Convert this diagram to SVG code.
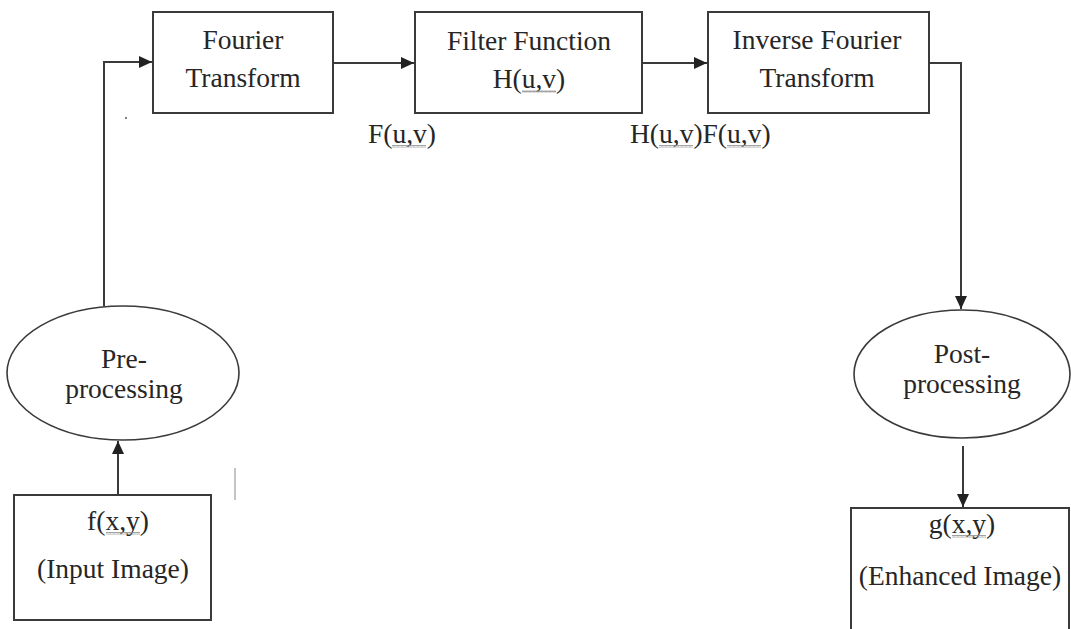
<svg xmlns="http://www.w3.org/2000/svg" width="1071" height="629" viewBox="0 0 1071 629">
  <style>
    .box { fill: #ffffff; stroke: #3a3a3a; stroke-width: 2; }
    .oval { fill: #ffffff; stroke: #3a3a3a; stroke-width: 1.6; }
    .lbl { font-family: "Liberation Serif", "Times New Roman", serif; font-size: 27.5px; fill: #262626; text-anchor: middle; }
    .lbl-start { font-family: "Liberation Serif", "Times New Roman", serif; font-size: 27.5px; fill: #262626; }
    .wire { fill: none; stroke: #3a3a3a; stroke-width: 2; }
    .squiggle { fill: url(#wave); }
  </style>
  <defs>
    <marker id="arrow" viewBox="0 0 10 10" refX="10" refY="5" markerWidth="6.5" markerHeight="6" orient="auto" markerUnits="strokeWidth" preserveAspectRatio="none">
      <path d="M0,0 L10,5 L0,10 Z" fill="#222222"/>
    </marker>
    <pattern id="wave" width="4" height="3" patternUnits="userSpaceOnUse">
      <path d="M0,2.5 L1,0.5 L2,2.5 L3,0.5 L4,2.5" fill="none" stroke="#8a8a8a" stroke-width="0.8"/>
    </pattern>
  </defs>

  <rect width="1071" height="629" fill="#ffffff"/>

  <!-- connectors -->
  <g id="connectors">
    <path class="wire" d="M104,306 L104,62 L152,62" marker-end="url(#arrow)"/>
    <path class="wire" d="M333,63 L414,63" marker-end="url(#arrow)"/>
    <path class="wire" d="M642,63 L707,63" marker-end="url(#arrow)"/>
    <path class="wire" d="M929,63 L961,63 L961,309" marker-end="url(#arrow)"/>
    <path class="wire" d="M118,495 L118,441" marker-end="url(#arrow)"/>
    <path class="wire" d="M963,446 L963,507" marker-end="url(#arrow)"/>
  </g>

  <!-- edge labels -->
  <g id="edge-labels">
    <text class="lbl-start" x="368" y="143">F(u,v)</text>
    <rect class="squiggle" x="392" y="145" width="34" height="3"/>
    <text class="lbl-start" x="630" y="143">H(u,v)F(u,v)</text>
    <rect class="squiggle" x="659" y="145" width="34" height="3"/>
    <rect class="squiggle" x="727" y="145" width="34" height="3"/>
  </g>

  <g id="fourier-transform">
    <rect class="box" x="153" y="12" width="180" height="101"/>
    <text class="lbl" x="243" y="49">Fourier</text>
    <text class="lbl" x="243" y="87">Transform</text>
  </g>

  <g id="filter-function">
    <rect class="box" x="415" y="12" width="227" height="101"/>
    <text class="lbl" x="529" y="50">Filter Function</text>
    <text class="lbl" x="529" y="88">H(u,v)</text>
    <rect class="squiggle" x="522" y="90" width="34" height="3"/>
  </g>

  <g id="inverse-fourier-transform">
    <rect class="box" x="708" y="12" width="221" height="101"/>
    <text class="lbl" x="817" y="49">Inverse Fourier</text>
    <text class="lbl" x="817" y="87">Transform</text>
  </g>

  <g id="pre-processing">
    <ellipse class="oval" cx="123" cy="373" rx="116" ry="67"/>
    <text class="lbl" x="124" y="368">Pre-</text>
    <text class="lbl" x="124" y="398">processing</text>
  </g>

  <g id="post-processing">
    <ellipse class="oval" cx="962" cy="374" rx="108" ry="64"/>
    <text class="lbl" x="962" y="363">Post-</text>
    <text class="lbl" x="962" y="393">processing</text>
  </g>

  <g id="input-image">
    <rect class="box" x="14" y="495" width="197" height="125"/>
    <text class="lbl" x="118" y="530">f(x,y)</text>
    <rect class="squiggle" x="106" y="532" width="34" height="3"/>
    <text class="lbl" x="113" y="578">(Input Image)</text>
  </g>

  <g id="enhanced-image">
    <rect class="box" x="851" y="508" width="218" height="140"/>
    <text class="lbl" x="962" y="533">g(x,y)</text>
    <rect class="squiggle" x="952" y="535" width="34" height="3"/>
    <text class="lbl" x="960" y="585">(Enhanced Image)</text>
  </g>

  <!-- stray marks on the page -->
  <line x1="235" y1="468" x2="235" y2="500" stroke="#b0b0b0" stroke-width="1.5"/>
  <circle cx="126" cy="118" r="1" fill="#555555"/>
</svg>
